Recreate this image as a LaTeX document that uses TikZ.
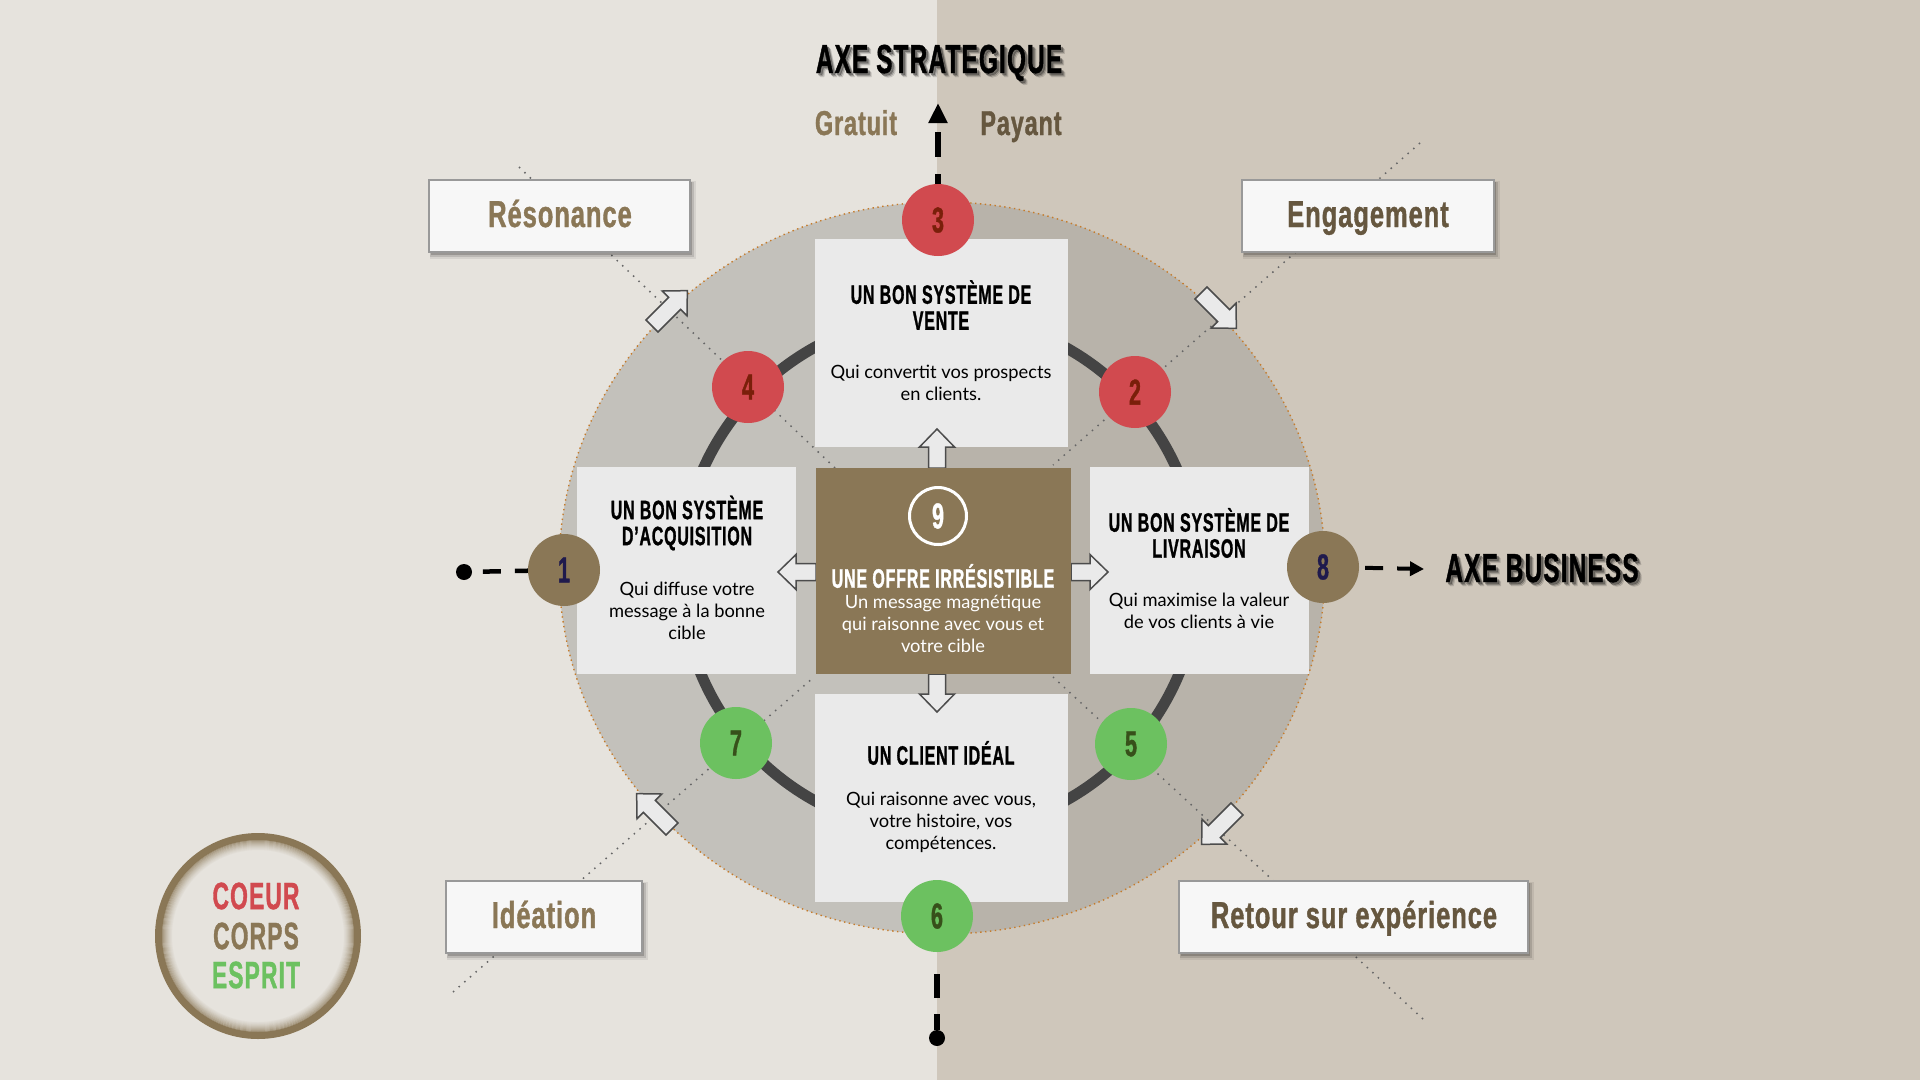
\documentclass[tikz,border=0pt]{standalone}
\usepackage{fontspec}
\usetikzlibrary{arrows.meta,calc}
\newfontfamily\osw[FakeStretch=0.60,FakeBold=1,LetterSpace=3]{Liberation Sans}
\newfontfamily\oswl[FakeStretch=0.68,FakeBold=1,LetterSpace=2.5]{Liberation Sans}
\newfontfamily\bodyf{Lato}
\definecolor{bgL}{HTML}{E6E3DD}
\definecolor{bgR}{HTML}{CFC7BB}
\definecolor{over}{HTML}{A2A19B}
\definecolor{brown}{HTML}{8A7756}
\definecolor{dbrown}{HTML}{66573F}
\definecolor{redc}{HTML}{D14A4F}
\definecolor{greenc}{HTML}{6CC160}
\definecolor{numr}{HTML}{7A1F0A}
\definecolor{numg}{HTML}{37501A}
\definecolor{numb}{HTML}{1F1A4D}
\definecolor{boxc}{HTML}{EAEAEA}
\definecolor{ringc}{HTML}{444444}
\newcommand{\fs}[1]{\fontsize{#1}{#1}\selectfont}
\newcommand{\fsl}[2]{\fontsize{#1}{#2}\selectfont}
\tikzset{
  x=1pt,y=-1pt,
  card/.style={fill=boxc,draw=none},
  head/.style={font=\osw\bfseries\fsl{26.6}{26},align=center,text=black,inner sep=0},
  bodyt/.style={font=\bodyf\fsl{18.3}{22},align=center,text=black,inner sep=0},
  badge/.style={circle,minimum size=72pt,inner sep=0,font=\osw\bfseries\fs{36}},
  redb/.style={badge,fill=redc,text=numr},
  greenb/.style={badge,fill=greenc,text=numg},
  brownb/.style={badge,fill=brown,text=numb},
  labelbox/.style={fill=white!97!black,draw=black!40,line width=1.6pt,inner sep=0},
  labelt/.style={font=\oswl\bfseries\fs{37.5},inner sep=0,anchor=base},
  axist/.style={font=\osw\bfseries\fs{40.5},text=black,inner sep=0,anchor=base},
  sidet/.style={font=\oswl\bfseries\fs{34.5},inner sep=0,anchor=base},
  logot/.style={font=\osw\bfseries\fs{38},inner sep=0},
  axisline/.style={line width=5.5pt,black},
  dotline/.style={line width=1.5pt,black!60,dash pattern=on 1.5pt off 6pt},
  blockarrow/.style={fill=boxc,draw=black!70,line width=1.5pt,line join=miter},
  enddot/.style={circle,fill=black,minimum size=16pt,inner sep=0},
}
% shaft tail at (#1), direction #2 degrees, total length #3
\newcommand{\blockarr}[3]{%
  \draw[blockarrow,shift={(#1)},rotate=#2]
    (0,-8.5) -- ({#3-18},-8.5) -- ({#3-18},-17.5) -- (#3,0) -- ({#3-18},17.5) -- ({#3-18},8.5) -- (0,8.5) -- cycle;}
\newcommand{\labelshadow}[4]{%
  \fill[black,opacity=.07] (#1+1,#2+1) rectangle (#3+6,#4+7);
  \fill[black,opacity=.12] (#1+1,#2+2) rectangle (#3+4,#4+5);
  \fill[black,opacity=.18] (#1+2,#2+2) rectangle (#3+2,#4+3);}
\newcommand{\shlayer}[3]{\rlap{\pgfsetfillopacity{#1}\pgfsetstrokeopacity{#1}\kern#2pt\raisebox{-#2pt}{#3}}}
\newcommand{\shtxt}[1]{\shlayer{.10}{4}{#1}\shlayer{.18}{3}{#1}\shlayer{.28}{2}{#1}\pgfsetfillopacity{1}\pgfsetstrokeopacity{1}#1}
\begin{document}
\begin{tikzpicture}
\useasboundingbox (0,0) rectangle (1920,1080);
% background
\fill[bgL] (0,0) rectangle (937,1080);
\fill[bgR] (937,0) rectangle (1920,1080);
% disc
\fill[over,opacity=.5] (942,568) ellipse [x radius=383,y radius=366];
\draw[draw=brown!50!orange,line width=1.4pt,dash pattern=on 1.4pt off 3.5pt] (942,568) ellipse [x radius=383,y radius=366];
% ring
\draw[ringc,line width=11pt] (940,574) circle [radius=259];
% diagonals
\coordinate (nwA) at (519,167); \coordinate (nwB) at (835,468);
\coordinate (neA) at (1420,143); \coordinate (neB) at (1053,465);
\coordinate (swA) at (453,992); \coordinate (swB) at (814,677);
\coordinate (seA) at (1423,1019); \coordinate (seB) at (1053,677);
\draw[dotline] (nwA) -- (nwB);
\draw[dotline] (neA) -- (neB);
\draw[dotline] (swA) -- (swB);
\draw[dotline] (seA) -- (seB);
% cards
\fill[card] (815,239) rectangle (1068,447);
\fill[card] (577,467) rectangle (796,674);
\fill[card] (1090,467) rectangle (1309,674);
\fill[card] (815,694) rectangle (1068,902);
% block arrows
\blockarr{937,468}{90}{39}
\blockarr{937,674}{-90}{38}
\blockarr{816,572}{180}{38}
\blockarr{1071,572}{0}{37}
\blockarr{652,326}{45}{50}
\blockarr{1201,293}{-45}{50}
\blockarr{1237,809}{-135}{50}
\blockarr{672,829}{135}{50}
% centre card
\fill[brown] (816,468) rectangle (1071,674);
\node[draw=white,line width=3pt,circle,minimum size=57pt,inner sep=0,text=white,font=\osw\bfseries\fs{36}] (n9) at (938,516) {9};
\node[font=\osw\bfseries\fs{26.7},text=white,inner sep=0] (offer) at (943,576) {UNE OFFRE IRRÉSISTIBLE};
\node[bodyt,text=white] (offerb) at (943,624) {Un message magnétique\\qui raisonne avec vous et\\votre cible};
% card text
\node[head] (h3) at (941,305) {UN BON SYSTÈME DE\\VENTE};
\node[bodyt] (b3) at (941,383) {Qui convertit vos prospects\\en clients.};
\node[head] (h1) at (687,523) {UN BON SYSTÈME\\D’ACQUISITION};
\node[bodyt] (b1) at (687,611) {Qui diffuse votre\\message à la bonne\\cible};
\node[head] (h8) at (1199,533) {UN BON SYSTÈME DE\\LIVRAISON};
\node[bodyt] (b8) at (1199,611) {Qui maximise la valeur\\de vos clients à vie};
\node[head] (h6) at (941,753) {UN CLIENT IDÉAL};
\node[bodyt] (b6) at (941,822) {Qui raisonne avec vous,\\votre histoire, vos\\compétences.};
% badges
\node[redb] (n3) at (938,220) {3};
\node[redb] (n4) at (748,387) {4};
\node[redb] (n2) at (1135,392) {2};
\node[brownb] (n1) at (564,570) {1};
\node[brownb] (n8) at (1323,567) {8};
\node[greenb] (n5) at (1131,744) {5};
\node[greenb] (n6) at (937,916) {6};
\node[greenb] (n7) at (736,743) {7};
% axes
\coordinate (topTip) at (938,103);
\coordinate (rightTip) at (1424,569);
\node[enddot] (botDot) at (937,1038) {};
\node[enddot] (leftDot) at (464,572) {};
\draw[axisline,dash pattern=on 10pt off 17pt on 25pt off 40pt,-{Triangle[length=20pt,width=18pt]}] (n3) -- (topTip);
\draw[axisline,dash pattern=on 0pt off 22pt on 24pt off 16pt on 30pt] (n6) -- (botDot);
\draw[axisline,line width=4.5pt,dash pattern=on 13pt off 14pt on 18pt off 30pt] (n1) -- (leftDot);
\draw[axisline,line width=4pt,dash pattern=on 0pt off 6pt on 18pt off 14pt on 40pt,-{Triangle[length=14pt,width=14pt]}] (n8) -- (rightTip);
% axis titles
\node[axist] (axeS) at (939,73) {\shtxt{AXE STRATEGIQUE}};
\node[axist] (axeB) at (1542,582) {\shtxt{AXE BUSINESS}};
\node[sidet,text=brown] (grat) at (856,135) {Gratuit};
\node[sidet,text=dbrown] (pay) at (1021,135) {Payant};
% label boxes
\labelshadow{429}{180}{690}{252}
\labelshadow{1242}{180}{1494}{252}
\labelshadow{446}{881}{642}{953}
\labelshadow{1179}{881}{1528}{953}
\path[labelbox,draw] (429,180) rectangle (690,252);
\path[labelbox,draw] (1242,180) rectangle (1494,252);
\path[labelbox,draw] (446,881) rectangle (642,953);
\path[labelbox,draw] (1179,881) rectangle (1528,953);
\node[labelt,text=brown] (res) at (560,227) {Résonance};
\node[labelt,text=dbrown] (eng) at (1368,227) {Engagement};
\node[labelt,text=brown] (ide) at (544,928) {Idéation};
\node[labelt,text=dbrown] (ret) at (1354,928) {Retour sur expérience};
% logo
\foreach \r/\o in {96.5/.85,95.5/.7,94.5/.6,93.5/.5,92.5/.42,91.5/.34,90.5/.27,89.5/.2,88.5/.14,87.5/.09,86.5/.05}{
  \draw[brown,draw opacity=\o,line width=1pt] (258,936) circle [radius=\r];
}
\draw[brown,line width=7pt] (258,936) circle [radius=99.5];
\node[logot,text=redc] (c1) at (256,896) {COEUR};
\node[logot,text=brown] (c2) at (256,936) {CORPS};
\node[logot,text=greenc] (c3) at (256,975) {ESPRIT};
\end{tikzpicture}
\end{document}
